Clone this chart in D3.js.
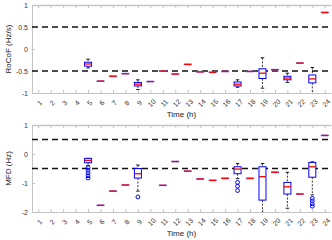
<!DOCTYPE html>
<html>
<head>
<meta charset="utf-8">
<script src="https://cdn.jsdelivr.net/npm/d3@7"></script>
<style>
  body { margin: 0; background: #fff; }
  svg { display: block; font-family: "Liberation Sans", Arial, sans-serif; }
  .axis path, .axis line { stroke: #c4c4c4; }
  .axis text { fill: #333; font-size: 7px; }
  .label { fill: #222; font-size: 8px; }
</style>
</head>
<body>
<svg width="332" height="240"></svg>
<script>
// x categories
const hours = [1, 2, 3, 4, 5, 6, 7, 8, 9, 10, 11, 12, 13, 14, 15, 16, 17, 18, 19, 20, 21, 22, 23, 24];

// RoCoF (Hz/s): boxes and single-value hours
const rocofBoxes = [
  {hour: 5,  lo: -0.43, q1: -0.39, med: -0.34, q3: -0.30, hi: -0.23, out: []},
  {hour: 9,  lo: -0.92, q1: -0.84, med: -0.80, q3: -0.76, hi: -0.70, out: []},
  {hour: 17, lo: -0.87, q1: -0.84, med: -0.80, q3: -0.75, hi: -0.70, out: []},
  {hour: 19, lo: -0.89, q1: -0.67, med: -0.55, q3: -0.45, hi: -0.20, out: []},
  {hour: 21, lo: -0.76, q1: -0.70, med: -0.66, q3: -0.62, hi: -0.55, out: []},
  {hour: 23, lo: -1.05, q1: -0.77, med: -0.68, q3: -0.59, hi: -0.42, out: []}
];
const rocofSingles = [
  {hour: 6, v: -0.73}, {hour: 7, v: -0.62}, {hour: 8, v: -0.56}, {hour: 10, v: -0.74},
  {hour: 11, v: -0.50}, {hour: 12, v: -0.57}, {hour: 13, v: -0.35}, {hour: 14, v: -0.52},
  {hour: 15, v: -0.53}, {hour: 16, v: -0.51}, {hour: 18, v: -0.51}, {hour: 20, v: -0.47},
  {hour: 22, v: -0.32}, {hour: 24, v: 0.83}
];
const rocofTicks = [-1, -0.5, 0, 0.5, 1];

// MFD (Hz): boxes and single-value hours
const mfdBoxes = [
  {hour: 5,  lo: -0.40, q1: -0.30, med: -0.22, q3: -0.15, hi: -0.15, out: [-0.47, -0.56, -0.65, -0.75, -0.83]},
  {hour: 9,  lo: -1.28, q1: -0.83, med: -0.68, q3: -0.50, hi: -0.38, out: [-1.48]},
  {hour: 17, lo: -0.85, q1: -0.68, med: -0.52, q3: -0.44, hi: -0.33, out: [-0.98, -1.11, -1.26]},
  {hour: 19, lo: -2.10, q1: -1.59, med: -0.78, q3: -0.44, hi: -0.33, out: []},
  {hour: 21, lo: -1.87, q1: -1.38, med: -1.13, q3: -0.98, hi: -0.63, out: []},
  {hour: 23, lo: -1.41, q1: -0.80, med: -0.44, q3: -0.29, hi: -0.27, out: [-1.53, -1.62, -1.72, -1.80]}
];
const mfdSingles = [
  {hour: 6, v: -1.77}, {hour: 7, v: -1.28}, {hour: 8, v: -1.07}, {hour: 11, v: -1.08},
  {hour: 12, v: -0.26}, {hour: 13, v: -0.59}, {hour: 14, v: -0.86}, {hour: 15, v: -0.91},
  {hour: 16, v: -0.84}, {hour: 18, v: -0.84}, {hour: 20, v: -0.63}, {hour: 22, v: -1.38},
  {hour: 24, v: 0.64}
];
const mfdTicks = [-2, -1, 0, 1];

const limits = [-0.5, 0.5];

const svg = d3.select("svg");
const left = 32, right = 331, bw = 7;

const x = d3.scaleLinear().domain([0.5, 24.5]).range([left, right]);

function panel(id, top, bottom, yDomain, yTicks, boxes, singles, ylabel) {
  const y = d3.scaleLinear().domain(yDomain).range([bottom, top]);
  const g = svg.append("g");

  g.append("clipPath").attr("id", id)
    .append("rect")
    .attr("x", left).attr("y", top)
    .attr("width", right - left).attr("height", bottom - top);

  g.append("g").attr("class", "axis")
    .attr("transform", "translate(0," + top + ")")
    .call(d3.axisTop(x).tickValues(hours).tickSizeInner(-3).tickSizeOuter(0).tickFormat(""))
    .select("path").attr("stroke-width", 1.5);

  const xa = g.append("g").attr("class", "axis")
    .attr("transform", "translate(0," + bottom + ")")
    .call(d3.axisBottom(x).tickValues(hours).tickSizeInner(-3).tickSizeOuter(0).tickPadding(6));
  xa.selectAll("text")
    .attr("text-anchor", "middle")
    .attr("dy", "0.35em")
    .attr("transform", function() {
      return "rotate(-45," + d3.select(this.parentNode).datum() + ",0)";
    })
    .attr("x", 1)
    .attr("y", 9);
  xa.selectAll(".tick text").attr("transform", null)
    .attr("transform", "translate(1,10) rotate(-45)")
    .attr("x", 0).attr("y", 0);

  g.append("g").attr("class", "axis")
    .attr("transform", "translate(" + left + ",0)")
    .call(d3.axisLeft(y).tickValues(yTicks).tickSizeInner(-3).tickSizeOuter(0).tickPadding(4)
      .tickFormat(d => String(d)));

  const plot = g.append("g").attr("clip-path", "url(#" + id + ")");

  plot.selectAll(".limit").data(limits).enter()
    .append("line")
    .attr("x1", left).attr("x2", right)
    .attr("y1", d => y(d)).attr("y2", d => y(d))
    .attr("stroke", "#111").attr("stroke-width", 1.4)
    .attr("stroke-dasharray", "6,4");

  const b = plot.selectAll(".box").data(boxes).enter().append("g");

  b.append("line")
    .attr("x1", d => x(d.hour)).attr("x2", d => x(d.hour))
    .attr("y1", d => y(d.hi)).attr("y2", d => y(d.q3))
    .attr("stroke", "#000").attr("stroke-width", 0.8).attr("stroke-dasharray", "2,1.5");
  b.append("line")
    .attr("x1", d => x(d.hour)).attr("x2", d => x(d.hour))
    .attr("y1", d => y(d.q1)).attr("y2", d => y(d.lo))
    .attr("stroke", "#000").attr("stroke-width", 0.8).attr("stroke-dasharray", "2,1.5");
  b.selectAll(".cap").data(d => [d.lo, d.hi].map(v => ({h: d.hour, v: v}))).enter()
    .append("line")
    .attr("x1", d => x(d.h) - bw / 4).attr("x2", d => x(d.h) + bw / 4)
    .attr("y1", d => y(d.v)).attr("y2", d => y(d.v))
    .attr("stroke", "#000").attr("stroke-width", 0.9);
  b.append("rect")
    .attr("x", d => x(d.hour) - bw / 2).attr("width", bw)
    .attr("y", d => y(d.q3)).attr("height", d => Math.max(1, y(d.q1) - y(d.q3)))
    .attr("fill", "#fff").attr("stroke", "#0000ff").attr("stroke-width", 1);
  b.append("line")
    .attr("x1", d => x(d.hour) - bw / 2).attr("x2", d => x(d.hour) + bw / 2)
    .attr("y1", d => y(d.med)).attr("y2", d => y(d.med))
    .attr("stroke", "#ff0000").attr("stroke-width", 1.3);
  b.selectAll(".out").data(d => d.out.map(v => ({h: d.hour, v: v}))).enter()
    .append("circle")
    .attr("cx", d => x(d.h)).attr("cy", d => y(d.v)).attr("r", 1.9)
    .attr("fill", "none").attr("stroke", "#0000ff").attr("stroke-width", 1);

  const s = plot.selectAll(".single").data(singles).enter().append("g");
  s.append("line")
    .attr("x1", d => x(d.hour) - bw / 2 - 0.5).attr("x2", d => x(d.hour) + bw / 2 + 0.5)
    .attr("y1", d => y(d.v)).attr("y2", d => y(d.v))
    .attr("stroke", "#6a6aff").attr("stroke-width", 1.6);
  s.append("line")
    .attr("x1", d => x(d.hour) - bw / 2).attr("x2", d => x(d.hour) + bw / 2)
    .attr("y1", d => y(d.v)).attr("y2", d => y(d.v))
    .attr("stroke", "#ff0000").attr("stroke-width", 1.3);

  g.append("text").attr("class", "label")
    .attr("text-anchor", "middle")
    .attr("transform", "translate(11," + (top + bottom) / 2 + ") rotate(-90)")
    .text(ylabel);

  g.append("text").attr("class", "label")
    .attr("text-anchor", "middle")
    .attr("x", (left + right) / 2).attr("y", bottom + 24)
    .text("Time (h)");
}

panel("clipA", 5, 93, [-1, 1], rocofTicks, rocofBoxes, rocofSingles, "RoCoF (Hz/s)");
panel("clipB", 125, 212, [-2, 1], mfdTicks, mfdBoxes, mfdSingles, "MFD (Hz)");
</script>
</body>
</html>
